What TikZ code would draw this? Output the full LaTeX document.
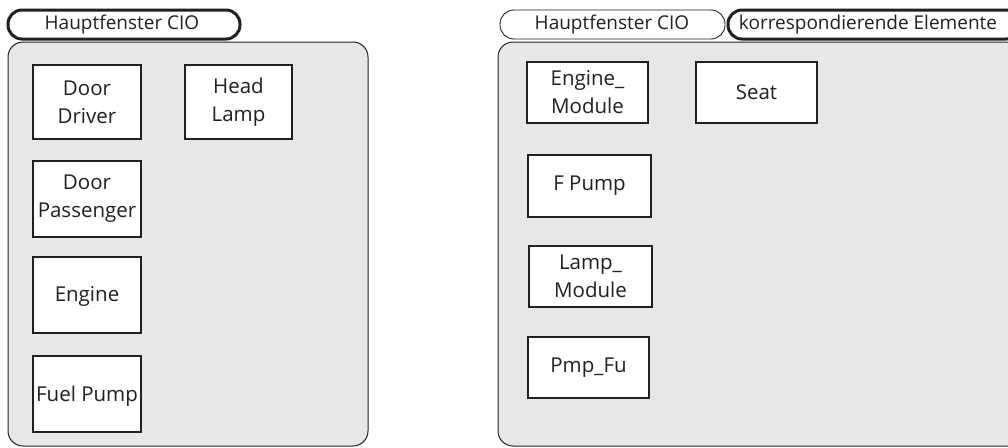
\documentclass[tikz,border=0pt]{standalone}
\usepackage{fontspec}
\setmainfont{Open Sans}
\definecolor{panelgray}{HTML}{E6E7E9}
\definecolor{ink}{HTML}{231F20}
\begin{document}
\begin{tikzpicture}[x=1pt,y=-1pt,
  panel/.style={draw=ink,line width=1pt,fill=panelgray,rounded corners=15pt},
  tabthin/.style={draw=ink,line width=0.9pt,fill=white,rounded corners=14pt},
  tabthick/.style={draw=ink,line width=3pt,fill=white,rounded corners=14pt},
  elem/.style={draw=ink,line width=1.2pt,fill=white,inner sep=0pt},
  lbl/.style={text=ink,font=\fontsize{20.5}{28}\selectfont,align=center,inner sep=0pt},
  tablbl/.style={text=ink,font=\fontsize{19}{24}\selectfont,inner sep=0pt}
]
\useasboundingbox (0,0) rectangle (1008,447);
\clip (0,0) rectangle (1008,447);
% left panel
\draw[panel] (8,42) rectangle (368,446);
\draw[tabthick] (8,10) rectangle (240,39);
\node[tablbl] (ltab) at (122,25) {Hauptfenster CIO};
% left elements
\draw[elem] (33,65) rectangle (141,139);
\node[lbl] (dd) at (87,102) {Door\\Driver};
\draw[elem] (185,65) rectangle (292,139);
\node[lbl] (hl) at (238.5,102) {Head\\Lamp};
\draw[elem] (33,161) rectangle (141,237);
\node[lbl] (dp) at (87,199) {Door\\Passenger};
\draw[elem] (33,257) rectangle (141,333);
\node[lbl] (en) at (87,296) {Engine};
\draw[elem] (33,356) rectangle (141,432);
\node[lbl] (fp) at (87,396) {Fuel Pump};
% right panel
\draw[panel] (498,42) rectangle (1040,446);
\draw[tabthin] (500,10) rectangle (725,39);
\node[tablbl] (rtab1) at (612,25) {Hauptfenster CIO};
\draw[tabthick] (728,10) rectangle (1020,39);
\node[tablbl] (rtab2) at (868,25) {korrespondierende Elemente};
% right elements
\draw[elem] (527,62) rectangle (648,123);
\node[lbl] (em) at (587.5,92.5) {Engine\_\\Module};
\draw[elem] (696,62) rectangle (817,123);
\node[lbl] (st) at (756.5,92.5) {Seat};
\draw[elem] (528,155) rectangle (651,217);
\node[lbl] (fpp) at (589.5,186) {F Pump};
\draw[elem] (529,246) rectangle (652,307);
\node[lbl] (lm) at (590.5,276.5) {Lamp\_\\Module};
\draw[elem] (528,337) rectangle (649,398);
\node[lbl] (pf) at (588.5,367.5) {Pmp\_Fu};
\end{tikzpicture}
\end{document}
